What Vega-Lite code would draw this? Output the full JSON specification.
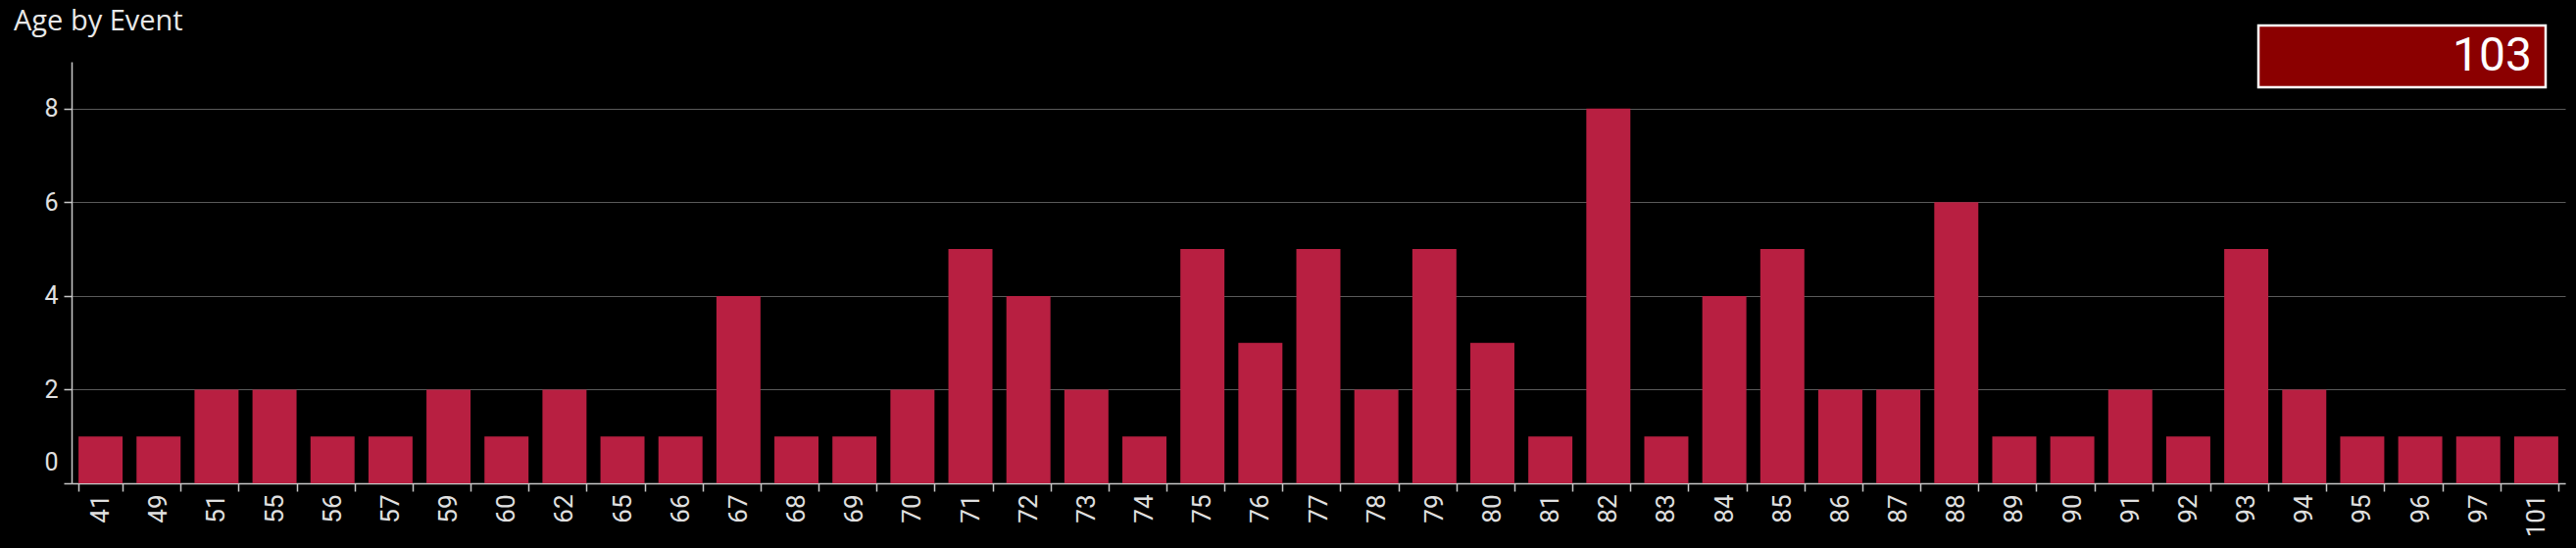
{
  "$schema": "https://vega.github.io/schema/vega-lite/v6.json",
  "width": 2544,
  "height": 430,
  "autosize": "none",
  "padding": {"left": 73, "top": 63, "right": 11, "bottom": 66},
  "background": "#000000",
  "title": {
    "text": "Age by Event",
    "anchor": "start",
    "frame": "group",
    "dx": -59,
    "offset": 0,
    "dy": 12,
    "font": "Open Sans",
    "fontSize": 29,
    "fontWeight": "normal",
    "color": "#e8e8e8"
  },
  "data": {
    "values": [
      {"age": 41, "count": 1}, {"age": 49, "count": 1}, {"age": 51, "count": 2}, {"age": 55, "count": 2},
      {"age": 56, "count": 1}, {"age": 57, "count": 1}, {"age": 59, "count": 2}, {"age": 60, "count": 1},
      {"age": 62, "count": 2}, {"age": 65, "count": 1}, {"age": 66, "count": 1}, {"age": 67, "count": 4},
      {"age": 68, "count": 1}, {"age": 69, "count": 1}, {"age": 70, "count": 2}, {"age": 71, "count": 5},
      {"age": 72, "count": 4}, {"age": 73, "count": 2}, {"age": 74, "count": 1}, {"age": 75, "count": 5},
      {"age": 76, "count": 3}, {"age": 77, "count": 5}, {"age": 78, "count": 2}, {"age": 79, "count": 5},
      {"age": 80, "count": 3}, {"age": 81, "count": 1}, {"age": 82, "count": 8}, {"age": 83, "count": 1},
      {"age": 84, "count": 4}, {"age": 85, "count": 5}, {"age": 86, "count": 2}, {"age": 87, "count": 2},
      {"age": 88, "count": 6}, {"age": 89, "count": 1}, {"age": 90, "count": 1}, {"age": 91, "count": 2},
      {"age": 92, "count": 1}, {"age": 93, "count": 5}, {"age": 94, "count": 2}, {"age": 95, "count": 1},
      {"age": 96, "count": 1}, {"age": 97, "count": 1}, {"age": 101, "count": 1}
    ]
  },
  "layer": [
    {
      "mark": {"type": "bar", "color": "#b81f41"},
      "encoding": {
        "x": {
          "field": "age",
          "type": "ordinal",
          "scale": {"paddingInner": 0.24, "paddingOuter": 0.12},
          "axis": {
            "title": null,
            "labelAngle": -90,
            "labelAlign": "right",
            "labelBaseline": "middle",
            "labelFont": "Roboto",
            "labelFontSize": 26,
            "labelColor": "#e0e0e0",
            "labelPadding": 3,
            "tickBand": "extent",
            "tickSize": 8,
            "tickColor": "#c8c8c8",
            "tickWidth": 1.5,
            "domainColor": "#c8c8c8",
            "domainWidth": 1.5,
            "grid": false
          }
        },
        "y": {
          "field": "count",
          "type": "quantitative",
          "scale": {"domain": [0, 9], "nice": false},
          "axis": {
            "title": null,
            "values": [0, 2, 4, 6, 8],
            "labelFont": "Roboto",
            "labelFontSize": 25,
            "labelColor": "#e0e0e0",
            "labelPadding": 6,
            "labelFlush": true,
            "labelFlushOffset": -9,
            "tickSize": 8,
            "tickColor": "#c8c8c8",
            "tickWidth": 1.5,
            "domainColor": "#c8c8c8",
            "domainWidth": 1.5,
            "grid": true,
            "gridColor": "#5a5a5a",
            "gridWidth": 1.2
          }
        }
      }
    },
    {
      "transform": [{"aggregate": [{"op": "sum", "field": "count", "as": "total"}]}],
      "mark": {"type": "rect", "fill": "#8b0000", "stroke": "#ffffff", "strokeWidth": 2.5},
      "encoding": {
        "x": {"value": 2231},
        "x2": {"value": 2524},
        "y": {"value": -37},
        "y2": {"value": 26}
      }
    },
    {
      "transform": [{"aggregate": [{"op": "sum", "field": "count", "as": "total"}]}],
      "mark": {"type": "text", "align": "right", "baseline": "middle", "font": "Roboto", "fontSize": 48, "color": "#ffffff"},
      "encoding": {
        "text": {"field": "total", "type": "quantitative"},
        "x": {"value": 2510},
        "y": {"value": -5}
      }
    }
  ],
  "config": {
    "view": {"stroke": null}
  }
}
